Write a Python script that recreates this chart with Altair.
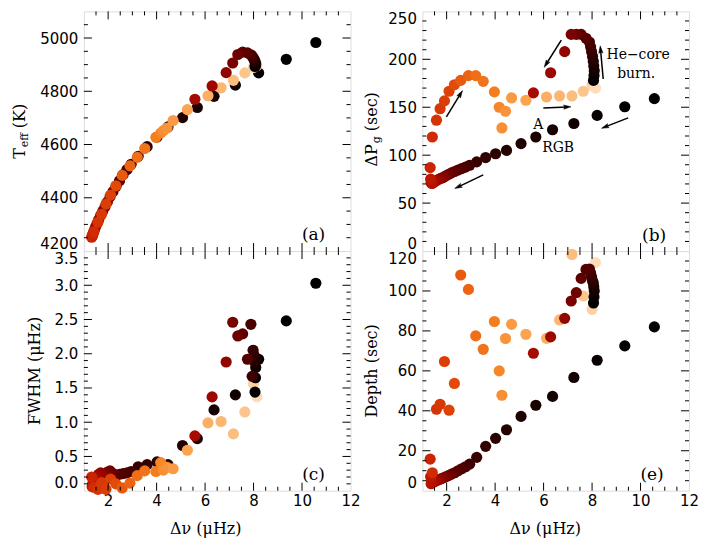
import math
import altair as alt
import pandas as pd

# ---------------- data ----------------
# phase 1: red-giant-branch ascent
rgb_dnu = [10.57, 9.35, 8.21, 7.25, 6.37, 5.68, 5.07, 4.47, 4.02, 3.61, 3.24, 2.95, 2.78, 2.62, 2.47,
           2.33, 2.20, 2.08, 1.97, 1.87, 1.78, 1.69, 1.61, 1.54, 1.48, 1.43, 1.39, 1.36, 1.34]
rgb_teff = [4983, 4920, 4869, 4823, 4781, 4739, 4701, 4666, 4628, 4592, 4556, 4526, 4506, 4487, 4464,
            4443, 4423, 4405, 4384, 4366, 4350, 4334, 4318, 4303, 4290, 4278, 4268, 4261, 4255]
rgb_dpg = [159, 150.5, 141.5, 133, 126.5, 119, 112, 105, 101.5, 97.5, 93, 89.5, 87.5, 86, 84.5,
           83, 81.5, 80, 78.5, 77, 76, 75, 74, 73, 72, 71, 70.5, 71.5, 75]
rgb_fwhm = [3.03, 2.48, 1.92, 1.40, 1.18, 0.76, 0.66, 0.38, 0.42, 0.38, 0.35, 0.28, 0.26, 0.25, 0.24,
            0.22, 0.25, 0.29, 0.27, 0.24, 0.22, 0.26, 0.24, 0.20, 0.16, 0.12, 0.18, 0.10, 0.06]
rgb_depth = [82, 72.5, 65.3, 56.7, 47.2, 42.8, 37.2, 30.5, 26.2, 22.2, 16.7, 13.3, 12, 11, 10,
             9, 8.3, 7.6, 7, 6.5, 6, 5.6, 5.2, 4.8, 4.5, 4.2, 5.5, 3.5, 7]
rgb_c = [0.0, 0.0, 0.02, 0.05, 0.07, 0.09, 0.11, 0.13, 0.15, 0.17, 0.19, 0.21, 0.23, 0.25, 0.27,
         0.29, 0.31, 0.33, 0.35, 0.37, 0.39, 0.41, 0.43, 0.45, 0.46, 0.47, 0.48, 0.50, 0.52]

# phase 2: helium flashes, approach to the clump
fl_dnu = [1.32, 1.41, 1.58, 1.73, 1.91, 2.10, 2.32, 2.58, 2.90, 3.20, 3.51, 3.97, 4.17, 4.28, 4.43,
          4.68, 5.27, 6.12, 6.66, 7.17, 7.64, 8.00, 8.14]
fl_teff = [4252, 4272, 4308, 4338, 4376, 4410, 4445, 4484, 4520, 4552, 4585, 4627, 4643, 4652, 4662,
           4690, 4731, 4783, 4813, 4841, 4869, 4890, 4897]
fl_dpg = [87, 119, 136.5, 148.5, 156.6, 166.7, 173.5, 178, 183, 183, 177, 166, 150, 128.4, 145.8,
          159.7, 157.3, 160.7, 161.8, 161.8, 166.7, 172.9, 170]
fl_fwhm = [0.20, 0.05, 0.02, 0.12, 0.02, 0.17, 0.10, 0.04, 0.11, 0.22, 0.29, 0.28, 0.41, 0.30, 0.34,
           0.32, 0.59, 0.99, 1.01, 0.83, 1.15, 1.56, 1.37]
fl_depth = [15.8, 9, 40.8, 43.3, 64.7, 40.3, 53.7, 108, 100.8, 77.5, 70.8, 84.7, 60, 47.8, 76.2,
            83.3, 78.3, 76.3, 85.5, 118.3, 97.5, 90.8, 114.2]
fl_c = [0.56, 0.58, 0.60, 0.61, 0.62, 0.63, 0.65, 0.68, 0.70, 0.72, 0.73, 0.75, 0.77, 0.79, 0.80,
        0.82, 0.84, 0.87, 0.89, 0.91, 0.93, 0.96, 0.98]

# phase 3: He-core burning
cl_dnu = [8.06, 8.08, 8.09, 8.07, 8.05, 8.02, 7.98, 7.94, 7.89, 7.75, 7.55, 7.35, 7.14, 6.87, 6.29, 5.58]
cl_teff = [4893, 4897, 4902, 4908, 4914, 4920, 4926, 4932, 4937, 4944, 4947, 4938, 4906, 4870, 4820, 4770]
cl_dpg = [178, 183, 188, 193, 198, 203, 208, 213, 218, 222, 226, 226, 226, 208, 186, 165]
cl_fwhm = [1.44, 1.65, 1.80, 1.92, 1.88, 1.98, 2.05, 1.67, 2.43, 1.92, 2.29, 2.26, 2.46, 1.88, 1.37, 0.80]
cl_depth = [94, 97, 100, 102, 104, 105, 107, 109, 111, 110.8, 106.3, 99.2, 95, 86.3, 77, 68.8]
cl_c = [0.0, 0.03, 0.06, 0.09, 0.12, 0.15, 0.18, 0.21, 0.24, 0.27, 0.30, 0.33, 0.36, 0.41, 0.44, 0.46]

# colour table (black -> red -> orange -> peach)
CSTOPS = [0.0, 0.15, 0.3, 0.45, 0.55, 0.65, 0.75, 0.85, 0.95, 1.0]
CCOLS = ["#000000", "#2a0200", "#5e0000", "#a20800", "#c81e00", "#e24a08",
         "#f57e1c", "#faa858", "#fdcc98", "#fee6d0"]

# annotations of panel (b)
arr_x1 = [1.99, 6.73, 5.99, 9.49, 3.51, 8.46]
arr_y1 = [139.9, 220.1, 149.3, 138.9, 79.5, 179.5]
arr_x2 = [2.57, 6.11, 6.97, 8.54, 2.48, 8.35]
arr_y2 = [163.9, 195.1, 150.3, 129.5, 67.0, 210.0]
note_text = ["He\u2212core", "burn.", "A", "RGB"]
note_x = [9.9, 9.82, 5.78, 6.6]
note_y = [204.5, 184.7, 131.6, 107.6]

# axes
X_DOM = [1, 12]
X_LABELS = [2, 4, 6, 8, 10, 12]
X_MAJOR = [2, 4, 6, 8, 10]
X_MINOR = [1.5, 2.5, 3, 3.5, 4.5, 5, 5.5, 6.5, 7, 7.5, 8.5, 9, 9.5, 10.5, 11, 11.5]

# ---------------- build ----------------
W, H = 267, 240
FONT_T = "DejaVu Sans"
FONT_S = "DejaVu Serif"

df = pd.DataFrame({
    "dnu": rgb_dnu + fl_dnu + cl_dnu,
    "teff": rgb_teff + fl_teff + cl_teff,
    "dpg": rgb_dpg + fl_dpg + cl_dpg,
    "fwhm": rgb_fwhm + fl_fwhm + cl_fwhm,
    "depth": rgb_depth + fl_depth + cl_depth,
    "c": rgb_c + fl_c + cl_c,
})
df["seq"] = range(len(df))

ONE = pd.DataFrame({"k": [0]})
xs = alt.Scale(domain=X_DOM, nice=False, zero=False)
cscale = alt.Scale(domain=CSTOPS, range=CCOLS, interpolate="rgb")
HEAD = "M0,-1L0.55,0.9L0,0.55L-0.55,0.9Z"


def frange(a, b, step):
    out, v = [], a
    while v < b - 1e-9:
        out.append(round(v, 6))
        v += step
    return out


def frame_ticks(ys, xax, yax, ymaj, ymin):
    layers = []
    for vals, L in ((X_MAJOR, 8), (X_MINOR, 4)):
        base = alt.Chart(pd.DataFrame({"v": vals})).mark_rule(color="black", strokeWidth=1)
        layers.append(base.encode(x=alt.X("v:Q", scale=xs, axis=xax), y=alt.value(H), y2=alt.value(H - L)))
        layers.append(base.encode(x=alt.X("v:Q", scale=xs, axis=xax), y=alt.value(0), y2=alt.value(L)))
    for vals, L in ((ymaj, 8), (ymin, 4)):
        base = alt.Chart(pd.DataFrame({"v": vals})).mark_rule(color="black", strokeWidth=1)
        layers.append(base.encode(y=alt.Y("v:Q", scale=ys, axis=yax), x=alt.value(0), x2=alt.value(L)))
        layers.append(base.encode(y=alt.Y("v:Q", scale=ys, axis=yax), x=alt.value(W), x2=alt.value(W - L)))
    return layers


def txt(text, x, y, size=16, font=FONT_S, angle=0, align="center", dx=0, dy=0):
    return alt.Chart(ONE).mark_text(
        text=text, font=font, fontSize=size, angle=angle, align=align, baseline="middle",
        dx=dx, dy=dy, color="black").encode(x=alt.value(x), y=alt.value(y))


def panel(field, ydom, ylabels, ymaj, ymin, fmt, bottom, extra):
    ys = alt.Scale(domain=ydom, nice=False, zero=False)
    yax = alt.Axis(values=ylabels, ticks=False, tickSize=0, domain=False, grid=False, title=None,
                   labelFlush=True, labelOverlap=False, labelFont=FONT_T, labelFontSize=15,
                   labelColor="black", labelPadding=6, format=fmt)
    xax = alt.Axis(values=X_LABELS, ticks=False, tickSize=0, domain=False, grid=False, title=None,
                   labels=bottom, labelFlush=False, labelOverlap=False, labelFont=FONT_T,
                   labelFontSize=15, labelColor="black", labelPadding=3)
    pts = alt.Chart(df).mark_circle(size=125, opacity=1).encode(
        x=alt.X("dnu:Q", scale=xs, axis=xax),
        y=alt.Y(f"{field}:Q", scale=ys, axis=yax),
        color=alt.Color("c:Q", scale=cscale, legend=None),
        order=alt.Order("seq:Q"),
    )
    layers = [pts] + frame_ticks(ys, xax, yax, ymaj, ymin) + extra(ys, xax, yax)
    return alt.layer(*layers).properties(width=W, height=H)


def extra_a(ys, xax, yax):
    return [txt("T", -64, 137, 16, angle=270, align="right"),
            txt("eff", -64, 137, 11, angle=270, align="left", dx=1, dy=5),
            txt("(K)", -64, 137, 16, angle=270, align="left", dx=20),
            txt("(a)", 230, 224, 17)]


def extra_b(ys, xax, yax):
    ppx = W / (X_DOM[1] - X_DOM[0])
    ppy = H / 250.0
    ang = [(math.degrees(math.atan2((b - a) * ppx, (d - c) * ppy)) + 360) % 360
           for a, b, c, d in zip(arr_x1, arr_x2, arr_y1, arr_y2)]
    arr = pd.DataFrame({"x1": arr_x1, "y1": arr_y1, "x2": arr_x2, "y2": arr_y2, "ang": ang})
    lines = alt.Chart(arr).mark_rule(color="black", strokeWidth=1.5).encode(
        x=alt.X("x1:Q", scale=xs, axis=xax), y=alt.Y("y1:Q", scale=ys, axis=yax),
        x2="x2:Q", y2="y2:Q")
    heads = alt.Chart(arr).mark_point(shape=HEAD, filled=True, size=60, fill="black",
                                      stroke="black", strokeWidth=0.5, opacity=1).encode(
        x=alt.X("x2:Q", scale=xs, axis=xax), y=alt.Y("y2:Q", scale=ys, axis=yax),
        angle=alt.Angle("ang:Q", scale=None))
    notes = alt.Chart(pd.DataFrame({"t": note_text, "x": note_x, "y": note_y})).mark_text(
        font=FONT_S, fontSize=14, color="black").encode(
        x=alt.X("x:Q", scale=xs, axis=xax), y=alt.Y("y:Q", scale=ys, axis=yax), text="t:N")
    return [lines, heads, notes,
            txt("\u0394P", -50, 133, 16, angle=270, align="right"),
            txt("g", -50, 133, 11, angle=270, align="left", dx=1, dy=5),
            txt("(sec)", -50, 133, 16, angle=270, align="left", dx=13),
            txt("(b)", 232, 225, 17)]


def extra_c(ys, xax, yax):
    return [txt("FWHM (\u03bcHz)", -49, 120, 16, angle=270),
            txt("\u0394\u03bd (\u03bcHz)", 122, H + 38, 16),
            txt("(c)", 230, 224, 17)]


def extra_e(ys, xax, yax):
    return [txt("Depth (sec)", -50, 120, 16, angle=270),
            txt("\u0394\u03bd (\u03bcHz)", 123, H + 38, 16),
            txt("(e)", 230, 224, 17)]


pa = panel("teff", [4200, 5100], [4200, 4400, 4600, 4800, 5000], [4400, 4600, 4800, 5000],
           [v for v in frange(4250, 5100, 50) if v % 200 != 0], "d", False, extra_a)
pb = panel("dpg", [0, 250], [0, 50, 100, 150, 200, 250], [50, 100, 150, 200],
           [v for v in frange(10, 250, 10) if v % 50 != 0], "d", False, extra_b)
pc = panel("fwhm", [0, 3.5], [0, 0.5, 1.0, 1.5, 2.0, 2.5, 3.0, 3.5], [0.5, 1.0, 1.5, 2.0, 2.5, 3.0],
           [v for v in frange(0.1, 3.5, 0.1) if abs(v * 2 - round(v * 2)) > 1e-6], ".1f", True, extra_c)
pe = panel("depth", [0, 120], [0, 20, 40, 60, 80, 100, 120], [20, 40, 60, 80, 100],
           [v for v in frange(5, 120, 5) if v % 20 != 0], "d", True, extra_e)

chart = alt.concat(pa, pb, pc, pe, columns=2, spacing={"row": 0, "column": 72}, bounds="flush").properties(
    padding={"left": 3, "top": 2, "right": 0, "bottom": 5}
).configure_view(stroke="black", strokeWidth=1.5).configure(background="white")

chart.save("out.html", embed_options={"renderer": "svg", "actions": False})
